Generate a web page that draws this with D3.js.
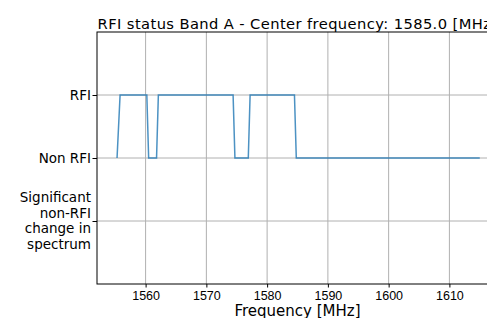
<!DOCTYPE html>
<html>
<head>
<meta charset="utf-8">
<script src="https://cdn.jsdelivr.net/npm/d3@7"></script>
<style>
  body { margin: 0; background: #fff; }
  svg { display: block; font-family: "DejaVu Sans", sans-serif; }
</style>
</head>
<body>
<div id="chart"></div>
<script>
// rfi status: 1 = RFI, 0 = Non RFI, -1 = significant non-RFI change
const freqs = [1555.3, 1555.8, 1560.2, 1560.5, 1561.8, 1562.1, 1574.4, 1574.7, 1576.9, 1577.2, 1584.5, 1584.8, 1615.0];
const status = [0, 1, 1, 0, 0, 1, 1, 0, 0, 1, 1, 0, 0];
const xTicks = [1560, 1570, 1580, 1590, 1600, 1610];
const yTicks = [1, 0, -1];
const yLabels = [["RFI"], ["Non RFI"], ["Significant", "non-RFI", "change in", "spectrum"]];
const title = "RFI status Band A - Center frequency: 1585.0 [MHz]";

const width = 487, height = 318;
const mLeft = 97, mRight = 498, mTop = 32, mBottom = 284;

const svg = d3.select("#chart").append("svg")
    .attr("width", width)
    .attr("height", height);

const x = d3.scaleLinear().domain([1552, 1618]).range([mLeft, mRight]);
const y = d3.scaleLinear().domain([-2, 2]).range([mBottom, mTop]);

// grid
svg.append("g").selectAll("line").data(xTicks).join("line")
    .attr("x1", d => x(d)).attr("x2", d => x(d))
    .attr("y1", mTop).attr("y2", mBottom)
    .attr("stroke", "#b0b0b0").attr("stroke-width", 1);
svg.append("g").selectAll("line").data(yTicks).join("line")
    .attr("x1", mLeft).attr("x2", mRight)
    .attr("y1", d => y(d)).attr("y2", d => y(d))
    .attr("stroke", "#b0b0b0").attr("stroke-width", 1);

// data line
const line = d3.line()
    .x((d, i) => x(freqs[i]))
    .y(d => y(d));
svg.append("path")
    .datum(status)
    .attr("d", line)
    .attr("fill", "none")
    .attr("stroke", "#1f77b4")
    .attr("stroke-opacity", 0.8)
    .attr("stroke-width", 1.5);

// x axis
const xAxis = svg.append("g")
    .attr("transform", "translate(0," + mBottom + ")")
    .call(d3.axisBottom(x).tickValues(xTicks).tickSize(3.5).tickPadding(3.5).tickFormat(d3.format("d")));
xAxis.select(".domain").remove();
xAxis.selectAll("text").style("font-size", "12.5px").attr("fill", "#000");

// y axis ticks
const yAxis = svg.append("g")
    .attr("transform", "translate(" + mLeft + ",0)")
    .call(d3.axisLeft(y).tickValues(yTicks).tickSize(4.5).tickFormat(""));
yAxis.select(".domain").remove();

const lh = 15.5;
svg.append("g").selectAll("text").data(yTicks).join("text")
    .attr("text-anchor", "end")
    .attr("x", mLeft - 6)
    .attr("y", (d, i) => y(d) - (yLabels[i].length - 1) * lh / 2)
    .style("font-size", "13.5px")
    .each(function (d, i) {
        d3.select(this).selectAll("tspan").data(yLabels[i]).join("tspan")
            .attr("x", mLeft - 6)
            .attr("dy", (t, j) => j === 0 ? "0.35em" : lh)
            .text(t => t);
    });

// frame
svg.append("rect")
    .attr("x", mLeft).attr("y", mTop)
    .attr("width", mRight - mLeft).attr("height", mBottom - mTop)
    .attr("fill", "none").attr("stroke", "#000").attr("stroke-width", 1);

// title and label
svg.append("text")
    .attr("x", (mLeft + mRight) / 2).attr("y", 28.5)
    .attr("text-anchor", "middle")
    .style("font-size", "14.7px")
    .style("letter-spacing", "0.4px")
    .text(title);

svg.append("text")
    .attr("x", (mLeft + mRight) / 2).attr("y", 315.5)
    .attr("text-anchor", "middle")
    .style("font-size", "15px")
    .text("Frequency [MHz]");
</script>
</body>
</html>
